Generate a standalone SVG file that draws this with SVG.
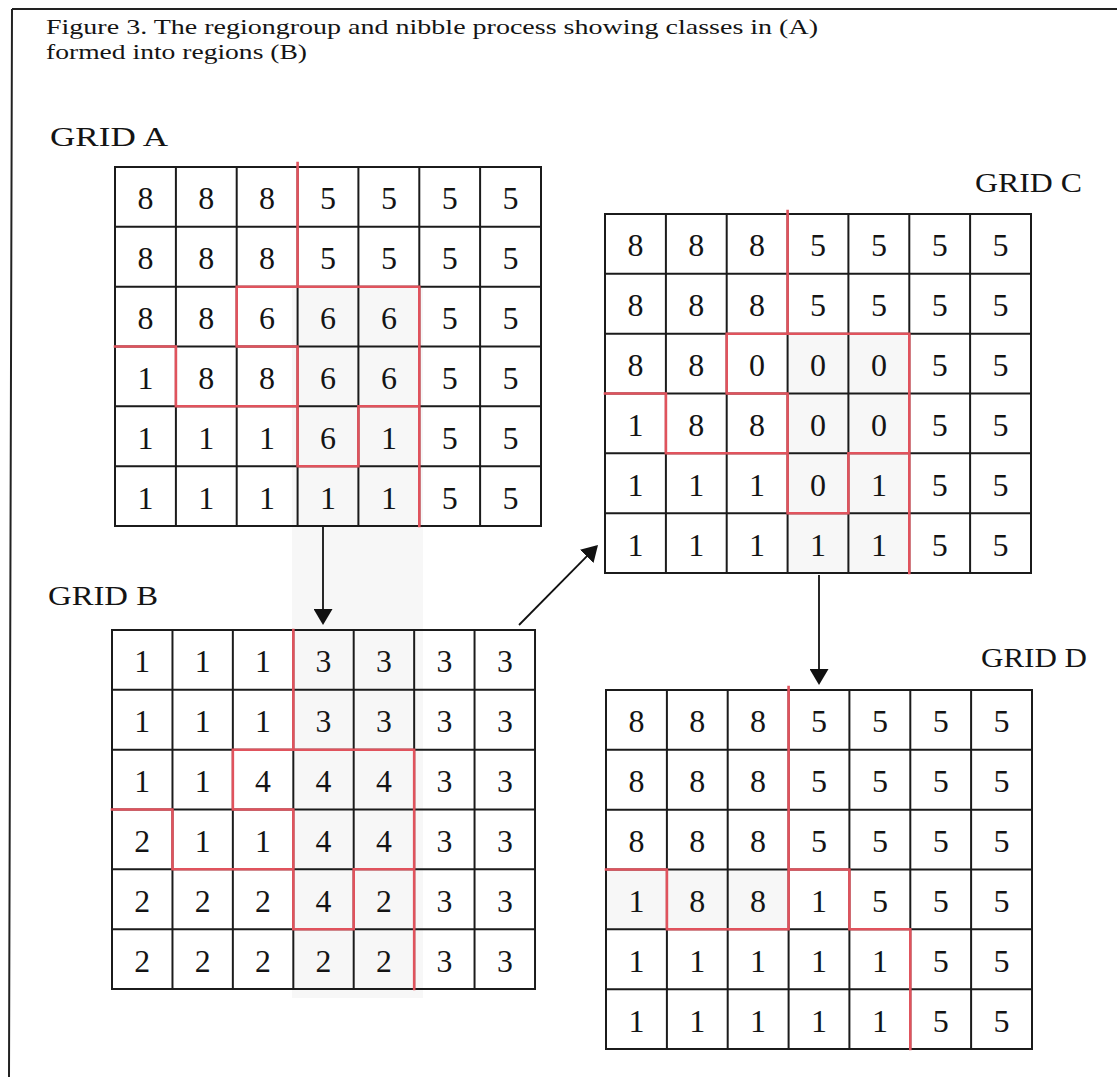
<svg xmlns="http://www.w3.org/2000/svg" width="1117" height="1077" viewBox="0 0 1117 1077">
<style>
.frame{stroke:#222;stroke-width:2;fill:none}
.gl{stroke:#1b1b1b;stroke-width:2;fill:none}
.red{stroke:#e0535d;stroke-width:2.6;fill:none;stroke-linecap:square;stroke-linejoin:miter}
.num{font-family:"Liberation Serif","Times New Roman",serif;font-size:32px;text-anchor:middle;fill:#141414}
.lbl{font-family:"Liberation Serif","Times New Roman",serif;font-size:27px;fill:#141414}
.title{font-family:"Liberation Serif","Times New Roman",serif;font-size:21px;fill:#141414}
.conn{stroke:#111;stroke-width:1.8;fill:none}
.shade{fill:#f7f7f7}
</style>
<defs>
<path id="grid" class="gl" d="M0,0 H426 V359 H0 Z M60.9,0 V359 M121.7,0 V359 M182.6,0 V359 M243.4,0 V359 M304.3,0 V359 M365.1,0 V359 M0,59.8 H426 M0,119.7 H426 M0,179.5 H426 M0,239.3 H426 M0,299.2 H426"/>
<marker id="ah" markerUnits="userSpaceOnUse" markerWidth="16" markerHeight="19" refX="14" refY="9.5" orient="auto" viewBox="0 0 16 19">
<path d="M0,0 L16,9.5 L0,19 Z" fill="#111"/>
</marker>
</defs>
<rect width="1117" height="1077" fill="#fff"/>
<path class="frame" d="M12,9 H1117 M12,9 L9,1077"/>
<text class="title" x="46" y="34" textLength="772" lengthAdjust="spacingAndGlyphs">Figure 3. The regiongroup and nibble process showing classes in (A)</text>
<text class="title" x="46" y="59" textLength="261" lengthAdjust="spacingAndGlyphs">formed into regions (B)</text>
<rect class="shade" x="292" y="287" width="131" height="711"/>
<rect class="shade" x="788" y="333" width="122" height="240"/>
<rect class="shade" x="607" y="869" width="183" height="60"/>

<g id="gridA">
<text class="lbl" x="50" y="146" textLength="118" lengthAdjust="spacingAndGlyphs">GRID A</text>
<g transform="translate(115,167)">
<use href="#grid"/>
<text class="num" x="30.4" y="42.4">8</text><text class="num" x="91.3" y="42.4">8</text><text class="num" x="152.1" y="42.4">8</text><text class="num" x="213" y="42.4">5</text><text class="num" x="273.9" y="42.4">5</text><text class="num" x="334.7" y="42.4">5</text><text class="num" x="395.6" y="42.4">5</text>
<text class="num" x="30.4" y="102.3">8</text><text class="num" x="91.3" y="102.3">8</text><text class="num" x="152.1" y="102.3">8</text><text class="num" x="213" y="102.3">5</text><text class="num" x="273.9" y="102.3">5</text><text class="num" x="334.7" y="102.3">5</text><text class="num" x="395.6" y="102.3">5</text>
<text class="num" x="30.4" y="162.1">8</text><text class="num" x="91.3" y="162.1">8</text><text class="num" x="152.1" y="162.1">6</text><text class="num" x="213" y="162.1">6</text><text class="num" x="273.9" y="162.1">6</text><text class="num" x="334.7" y="162.1">5</text><text class="num" x="395.6" y="162.1">5</text>
<text class="num" x="30.4" y="221.9">1</text><text class="num" x="91.3" y="221.9">8</text><text class="num" x="152.1" y="221.9">8</text><text class="num" x="213" y="221.9">6</text><text class="num" x="273.9" y="221.9">6</text><text class="num" x="334.7" y="221.9">5</text><text class="num" x="395.6" y="221.9">5</text>
<text class="num" x="30.4" y="281.8">1</text><text class="num" x="91.3" y="281.8">1</text><text class="num" x="152.1" y="281.8">1</text><text class="num" x="213" y="281.8">6</text><text class="num" x="273.9" y="281.8">1</text><text class="num" x="334.7" y="281.8">5</text><text class="num" x="395.6" y="281.8">5</text>
<text class="num" x="30.4" y="341.6">1</text><text class="num" x="91.3" y="341.6">1</text><text class="num" x="152.1" y="341.6">1</text><text class="num" x="213" y="341.6">1</text><text class="num" x="273.9" y="341.6">1</text><text class="num" x="334.7" y="341.6">5</text><text class="num" x="395.6" y="341.6">5</text>
<path class="red" d="M182.6,-4 V119.7 M121.7,119.7 H304.3 M121.7,119.7 V179.5 H182.6 M0,179.5 H60.9 V239.3 H182.6 M182.6,179.5 V299.2 H243.4 M243.4,299.2 V239.3 H304.3 M304.3,119.7 V359"/>
</g>
</g>

<g id="gridB">
<text class="lbl" x="48" y="605" textLength="110" lengthAdjust="spacingAndGlyphs">GRID B</text>
<g transform="translate(112,630) scale(0.993 1)">
<use href="#grid"/>
<text class="num" x="30.4" y="42.4">1</text><text class="num" x="91.3" y="42.4">1</text><text class="num" x="152.1" y="42.4">1</text><text class="num" x="213" y="42.4">3</text><text class="num" x="273.9" y="42.4">3</text><text class="num" x="334.7" y="42.4">3</text><text class="num" x="395.6" y="42.4">3</text>
<text class="num" x="30.4" y="102.3">1</text><text class="num" x="91.3" y="102.3">1</text><text class="num" x="152.1" y="102.3">1</text><text class="num" x="213" y="102.3">3</text><text class="num" x="273.9" y="102.3">3</text><text class="num" x="334.7" y="102.3">3</text><text class="num" x="395.6" y="102.3">3</text>
<text class="num" x="30.4" y="162.1">1</text><text class="num" x="91.3" y="162.1">1</text><text class="num" x="152.1" y="162.1">4</text><text class="num" x="213" y="162.1">4</text><text class="num" x="273.9" y="162.1">4</text><text class="num" x="334.7" y="162.1">3</text><text class="num" x="395.6" y="162.1">3</text>
<text class="num" x="30.4" y="221.9">2</text><text class="num" x="91.3" y="221.9">1</text><text class="num" x="152.1" y="221.9">1</text><text class="num" x="213" y="221.9">4</text><text class="num" x="273.9" y="221.9">4</text><text class="num" x="334.7" y="221.9">3</text><text class="num" x="395.6" y="221.9">3</text>
<text class="num" x="30.4" y="281.8">2</text><text class="num" x="91.3" y="281.8">2</text><text class="num" x="152.1" y="281.8">2</text><text class="num" x="213" y="281.8">4</text><text class="num" x="273.9" y="281.8">2</text><text class="num" x="334.7" y="281.8">3</text><text class="num" x="395.6" y="281.8">3</text>
<text class="num" x="30.4" y="341.6">2</text><text class="num" x="91.3" y="341.6">2</text><text class="num" x="152.1" y="341.6">2</text><text class="num" x="213" y="341.6">2</text><text class="num" x="273.9" y="341.6">2</text><text class="num" x="334.7" y="341.6">3</text><text class="num" x="395.6" y="341.6">3</text>
<path class="red" d="M182.6,0 V119.7 M121.7,119.7 H304.3 M121.7,119.7 V179.5 H182.6 M0,179.5 H60.9 V239.3 H182.6 M182.6,179.5 V299.2 H243.4 M243.4,299.2 V239.3 H304.3 M304.3,119.7 V359"/>
</g>
</g>

<g id="gridC">
<text class="lbl" x="975" y="192" textLength="107" lengthAdjust="spacingAndGlyphs">GRID C</text>
<g transform="translate(605,214)">
<use href="#grid"/>
<text class="num" x="30.4" y="42.4">8</text><text class="num" x="91.3" y="42.4">8</text><text class="num" x="152.1" y="42.4">8</text><text class="num" x="213" y="42.4">5</text><text class="num" x="273.9" y="42.4">5</text><text class="num" x="334.7" y="42.4">5</text><text class="num" x="395.6" y="42.4">5</text>
<text class="num" x="30.4" y="102.3">8</text><text class="num" x="91.3" y="102.3">8</text><text class="num" x="152.1" y="102.3">8</text><text class="num" x="213" y="102.3">5</text><text class="num" x="273.9" y="102.3">5</text><text class="num" x="334.7" y="102.3">5</text><text class="num" x="395.6" y="102.3">5</text>
<text class="num" x="30.4" y="162.1">8</text><text class="num" x="91.3" y="162.1">8</text><text class="num" x="152.1" y="162.1">0</text><text class="num" x="213" y="162.1">0</text><text class="num" x="273.9" y="162.1">0</text><text class="num" x="334.7" y="162.1">5</text><text class="num" x="395.6" y="162.1">5</text>
<text class="num" x="30.4" y="221.9">1</text><text class="num" x="91.3" y="221.9">8</text><text class="num" x="152.1" y="221.9">8</text><text class="num" x="213" y="221.9">0</text><text class="num" x="273.9" y="221.9">0</text><text class="num" x="334.7" y="221.9">5</text><text class="num" x="395.6" y="221.9">5</text>
<text class="num" x="30.4" y="281.8">1</text><text class="num" x="91.3" y="281.8">1</text><text class="num" x="152.1" y="281.8">1</text><text class="num" x="213" y="281.8">0</text><text class="num" x="273.9" y="281.8">1</text><text class="num" x="334.7" y="281.8">5</text><text class="num" x="395.6" y="281.8">5</text>
<text class="num" x="30.4" y="341.6">1</text><text class="num" x="91.3" y="341.6">1</text><text class="num" x="152.1" y="341.6">1</text><text class="num" x="213" y="341.6">1</text><text class="num" x="273.9" y="341.6">1</text><text class="num" x="334.7" y="341.6">5</text><text class="num" x="395.6" y="341.6">5</text>
<path class="red" d="M182.6,-3 V119.7 M121.7,119.7 H304.3 M121.7,119.7 V179.5 H182.6 M0,179.5 H60.9 V239.3 H182.6 M182.6,179.5 V299.2 H243.4 M243.4,299.2 V239.3 H304.3 M304.3,119.7 V359"/>
</g>
</g>

<g id="gridD">
<text class="lbl" x="981" y="667" textLength="106" lengthAdjust="spacingAndGlyphs">GRID D</text>
<g transform="translate(606,690)">
<use href="#grid"/>
<text class="num" x="30.4" y="42.4">8</text><text class="num" x="91.3" y="42.4">8</text><text class="num" x="152.1" y="42.4">8</text><text class="num" x="213" y="42.4">5</text><text class="num" x="273.9" y="42.4">5</text><text class="num" x="334.7" y="42.4">5</text><text class="num" x="395.6" y="42.4">5</text>
<text class="num" x="30.4" y="102.3">8</text><text class="num" x="91.3" y="102.3">8</text><text class="num" x="152.1" y="102.3">8</text><text class="num" x="213" y="102.3">5</text><text class="num" x="273.9" y="102.3">5</text><text class="num" x="334.7" y="102.3">5</text><text class="num" x="395.6" y="102.3">5</text>
<text class="num" x="30.4" y="162.1">8</text><text class="num" x="91.3" y="162.1">8</text><text class="num" x="152.1" y="162.1">8</text><text class="num" x="213" y="162.1">5</text><text class="num" x="273.9" y="162.1">5</text><text class="num" x="334.7" y="162.1">5</text><text class="num" x="395.6" y="162.1">5</text>
<text class="num" x="30.4" y="221.9">1</text><text class="num" x="91.3" y="221.9">8</text><text class="num" x="152.1" y="221.9">8</text><text class="num" x="213" y="221.9">1</text><text class="num" x="273.9" y="221.9">5</text><text class="num" x="334.7" y="221.9">5</text><text class="num" x="395.6" y="221.9">5</text>
<text class="num" x="30.4" y="281.8">1</text><text class="num" x="91.3" y="281.8">1</text><text class="num" x="152.1" y="281.8">1</text><text class="num" x="213" y="281.8">1</text><text class="num" x="273.9" y="281.8">1</text><text class="num" x="334.7" y="281.8">5</text><text class="num" x="395.6" y="281.8">5</text>
<text class="num" x="30.4" y="341.6">1</text><text class="num" x="91.3" y="341.6">1</text><text class="num" x="152.1" y="341.6">1</text><text class="num" x="213" y="341.6">1</text><text class="num" x="273.9" y="341.6">1</text><text class="num" x="334.7" y="341.6">5</text><text class="num" x="395.6" y="341.6">5</text>
<path class="red" d="M182.6,-3 V239.3 M0,179.5 H60.9 V239.3 H182.6 M182.6,179.5 H243.4 V239.3 H304.3 V359"/>
</g>
</g>

<g id="connectors">
<line class="conn" x1="323" y1="527" x2="323" y2="623" marker-end="url(#ah)"/>
<line class="conn" x1="519" y1="625" x2="596.6" y2="546.4" marker-end="url(#ah)"/>
<line class="conn" x1="819" y1="575" x2="819" y2="683" marker-end="url(#ah)"/>
</g>
</svg>
